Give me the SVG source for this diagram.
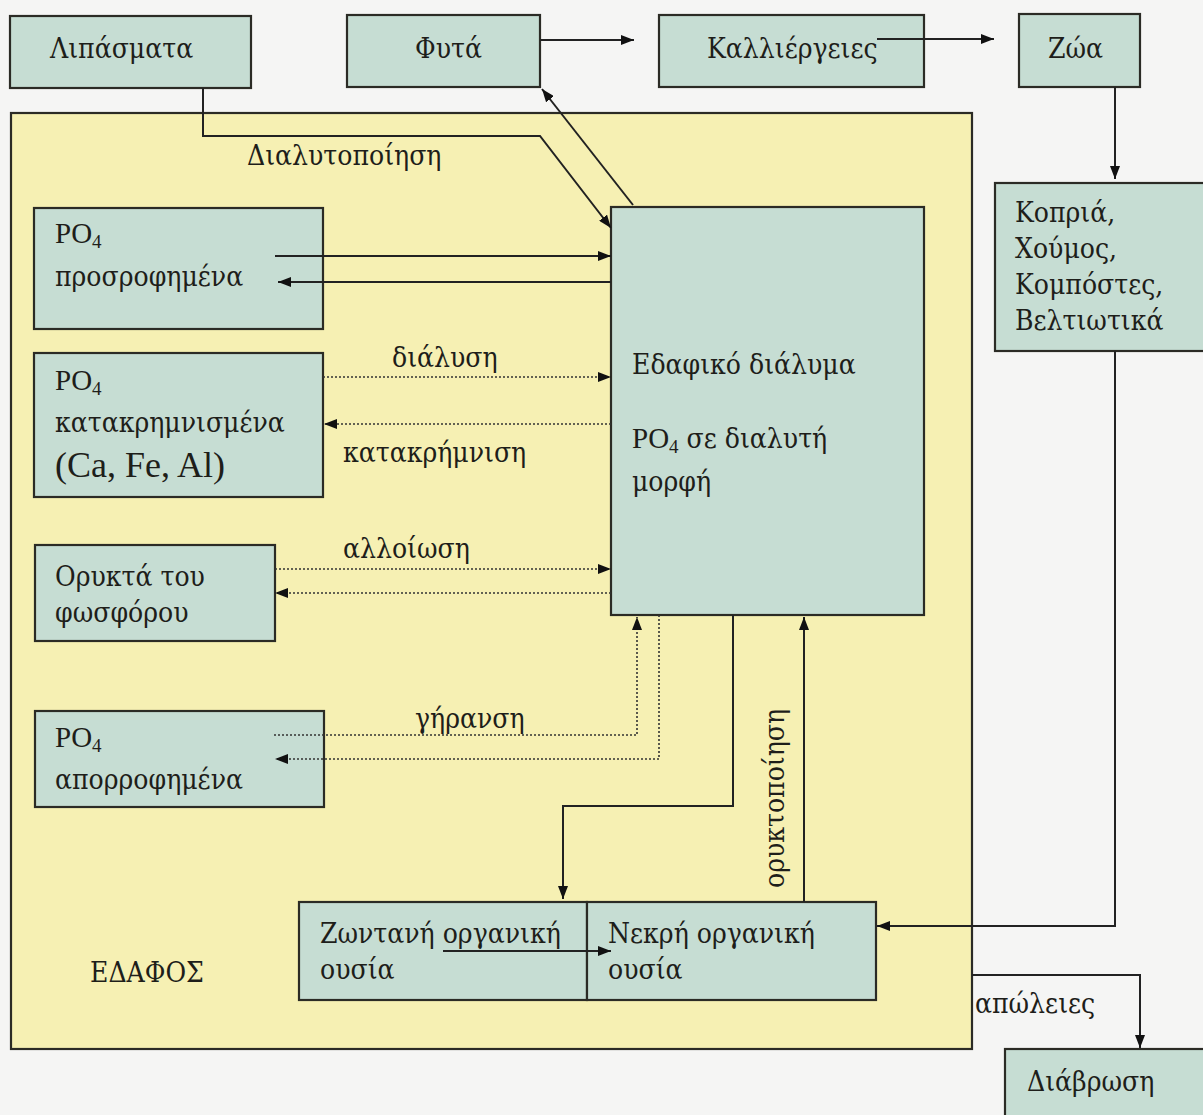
<svg xmlns="http://www.w3.org/2000/svg" width="1203" height="1115" viewBox="0 0 1203 1115">
<style>
.bg{fill:#f5f5f4}
.node{fill:#c6ddd3;stroke:#2b2b25;stroke-width:2.2}
.soil{fill:#f6f0b3;stroke:#2b2b25;stroke-width:2.2}
.t{font-family:"DejaVu Serif Condensed","DejaVu Serif","Liberation Serif",serif;font-size:28px;fill:#1e1e1a}
.lat{font-family:"Liberation Serif","Times New Roman",serif;font-size:29px}
.big{font-size:36px}
.sub{font-size:19px}
.ln{fill:none;stroke:#222;stroke-width:2}
.dt{fill:none;stroke:#333;stroke-width:1.6;stroke-dasharray:2 2}
</style>
<defs>
<marker id="ah" markerUnits="userSpaceOnUse" markerWidth="14" markerHeight="10" refX="13" refY="5" orient="auto">
<path d="M0,0 L13,5 L0,10 z" fill="#111"/>
</marker>
</defs>
<rect class="bg" x="0" y="0" width="1203" height="1115"/>
<g id="soil">
<rect class="soil" x="11" y="113" width="961" height="936"/>
<text class="t" x="90" y="982">ΕΔΑΦΟΣ</text>
</g>
<g id="lipasmata"><rect class="node" x="10" y="16" width="241" height="72"/><text class="t" x="50" y="58">Λιπάσματα</text></g>
<g id="fyta"><rect class="node" x="347" y="15" width="193" height="72"/><text class="t" x="415" y="58">Φυτά</text></g>
<g id="kallierg"><rect class="node" x="659" y="15" width="265" height="72"/><text class="t" x="707" y="58">Καλλιέργειες</text></g>
<g id="zoa"><rect class="node" x="1019" y="14" width="121" height="73"/><text class="t" x="1048" y="58">Ζώα</text></g>
<g id="kopria"><rect class="node" x="995" y="183" width="212" height="168"/>
<text class="t" x="1015" y="222">Κοπριά,</text><text class="t" x="1015" y="258">Χούμος,</text><text class="t" x="1015" y="294">Κομπόστες,</text><text class="t" x="1015" y="330">Βελτιωτικά</text></g>
<g id="prosrof"><rect class="node" x="34" y="208" width="289" height="121"/>
<text class="t lat" x="55" y="243">PO<tspan class="sub" dy="5">4</tspan></text><text class="t" x="55" y="286">προσροφημένα</text></g>
<g id="katakrim"><rect class="node" x="34" y="353" width="289" height="144"/>
<text class="t lat" x="55" y="390">PO<tspan class="sub" dy="5">4</tspan></text><text class="t" x="55" y="432">κατακρημνισμένα</text><text class="t lat big" x="55" y="477">(Ca, Fe, Al)</text></g>
<g id="orykta"><rect class="node" x="35" y="545" width="240" height="96"/>
<text class="t" x="55" y="586">Ορυκτά του</text><text class="t" x="55" y="622">φωσφόρου</text></g>
<g id="aporrof"><rect class="node" x="35" y="711" width="289" height="96"/>
<text class="t lat" x="55" y="747">PO<tspan class="sub" dy="5">4</tspan></text><text class="t" x="55" y="789">απορροφημένα</text></g>
<g id="edafiko"><rect class="node" x="611" y="207" width="313" height="408"/>
<text class="t" x="632" y="374">Εδαφικό διάλυμα</text>
<text class="t" x="632" y="448"><tspan class="lat">PO</tspan><tspan class="lat sub" dy="5">4</tspan><tspan dy="-5"> σε διαλυτή</tspan></text>
<text class="t" x="632" y="491">μορφή</text></g>
<g id="zontani"><rect class="node" x="299" y="902" width="288" height="98"/>
<text class="t" x="320" y="943">Ζωντανή οργανική</text><text class="t" x="320" y="979">ουσία</text></g>
<g id="nekri"><rect class="node" x="587" y="902" width="289" height="98"/>
<text class="t" x="608" y="943">Νεκρή οργανική</text><text class="t" x="608" y="979">ουσία</text></g>
<g id="diavrosi"><rect class="node" x="1005" y="1049" width="202" height="72"/><text class="t" x="1027" y="1091">Διάβρωση</text></g>
<g id="connectors">
<path class="ln" d="M203,88 V136 H540 L611,228" marker-end="url(#ah)"/>
<path class="ln" d="M633,205 L542,89" marker-end="url(#ah)"/>
<path class="ln" d="M540,40 H634" marker-end="url(#ah)"/>
<path class="ln" d="M877,39 H994" marker-end="url(#ah)"/>
<path class="ln" d="M1115,87 V179" marker-end="url(#ah)"/>
<path class="ln" d="M1115,351 V926 H877" marker-end="url(#ah)"/>
<path class="ln" d="M972,975 H1140 V1048" marker-end="url(#ah)"/>
<path class="ln" d="M275,256 H611" marker-end="url(#ah)"/>
<path class="ln" d="M611,282 H278" marker-end="url(#ah)"/>
<path class="dt" d="M323,377 H611" marker-end="url(#ah)"/>
<path class="dt" d="M611,424 H324" marker-end="url(#ah)"/>
<path class="dt" d="M275,569 H611" marker-end="url(#ah)"/>
<path class="dt" d="M611,593 H275" marker-end="url(#ah)"/>
<path class="dt" d="M274,735 H637 V617" marker-end="url(#ah)"/>
<path class="dt" d="M659,615 V759 H275" marker-end="url(#ah)"/>
<path class="ln" d="M733,615 V806 H563 V899" marker-end="url(#ah)"/>
<path class="ln" d="M804,902 V617" marker-end="url(#ah)"/>
<path class="ln" d="M443,951 H611" marker-end="url(#ah)"/>
<text class="t" x="247" y="165">Διαλυτοποίηση</text>
<text class="t" x="392" y="367">διάλυση</text>
<text class="t" x="343" y="462">κατακρήμνιση</text>
<text class="t" x="343" y="558">αλλοίωση</text>
<text class="t" x="415" y="728">γήρανση</text>
<text class="t" x="975" y="1013">απώλειες</text>
<text class="t" transform="translate(784,888) rotate(-90)">ορυκτοποίηση</text>
</g>
</svg>
